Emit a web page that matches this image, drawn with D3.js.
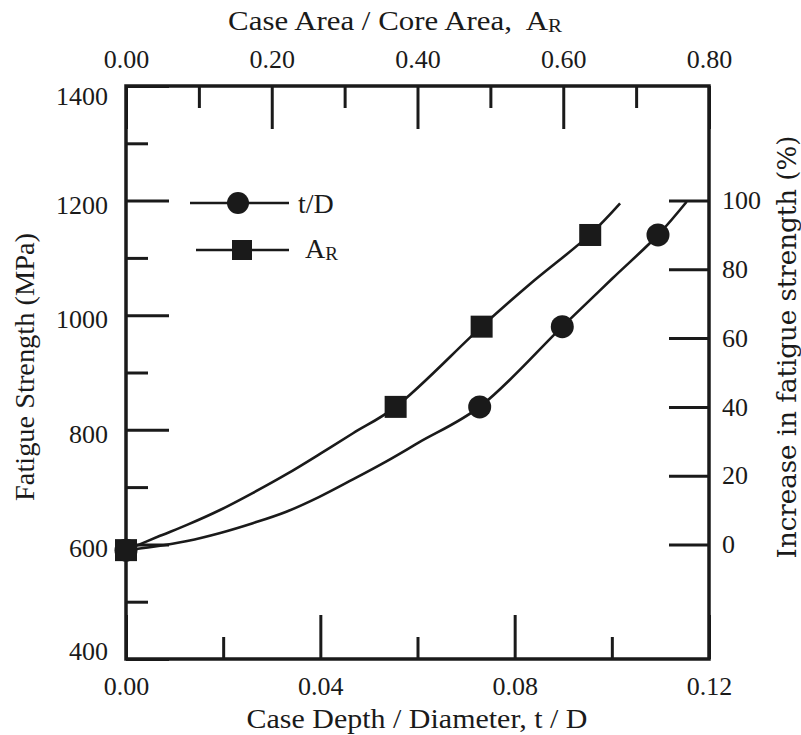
<!DOCTYPE html>
<html><head><meta charset="utf-8">
<script src="https://cdn.jsdelivr.net/npm/d3@7"></script>
<style>
body{margin:0;background:#fff}
svg{display:block}
svg text{font-family:'Liberation Serif',Tinos,'Times New Roman',Times,'DejaVu Serif',serif;fill:#1a1a1a}
svg text.rlab{font-family:'DejaVu Serif','Liberation Serif',serif}
</style>
</head><body>
<svg id="chart" width="801" height="735"></svg>
<script>
// ---------------- data ----------------
// measured points: t/D series (circles) on bottom axis
const tdX = [0, 0.0728, 0.0898, 0.1095];
const tdY = [590, 840, 980, 1140];
// measured points: A_R series (squares) on top axis
const arX = [0, 0.370, 0.488, 0.637];
const arY = [590, 840, 980, 1140];
// hand-drawn fit curves
const tdCurveX = [0, 0.0056, 0.0126, 0.0194, 0.0261, 0.0330, 0.0398, 0.0466, 0.0536, 0.0603, 0.0728, 0.0898, 0.1001, 0.1095, 0.1154];
const tdCurveY = [590, 596, 606, 620, 637, 657, 683, 713, 745, 778, 840, 980, 1064, 1140, 1198];
const arCurveX = [0, 0.0467, 0.0837, 0.1290, 0.1743, 0.2209, 0.2662, 0.3115, 0.370, 0.488, 0.554, 0.637, 0.678];
const arCurveY = [590, 615, 634, 660, 690, 723, 758, 794, 840, 980, 1054, 1141, 1195];
// ticks
const leftMajor = [400, 600, 800, 1000, 1200, 1400];
const leftMinor = [500, 700, 900, 1100, 1300];
const bottomMajor = [0, 0.04, 0.08, 0.12];
const bottomMinor = [0.02, 0.06, 0.10];
const topMajor = [0, 0.20, 0.40, 0.60, 0.80];
const topMinor = [0.10, 0.30, 0.50, 0.70];
const rightTicks = [0, 20, 40, 60, 80, 100];
const baseStrength = 600; // MPa corresponding to 0 % increase
const legendNames = ["t/D", "A", "R"];

// ---------------- layout ----------------
const L = 126, R = 709, T = 86, B = 659;
const ink = "#1a1a1a";
const svg = d3.select("#chart");

const x = d3.scaleLinear().domain([0, 0.12]).range([L, R]);
const xTop = d3.scaleLinear().domain([0, 0.8]).range([L, R]);
const y = d3.scaleLinear().domain([400, 1400]).range([B, T]);
const yPct = d3.scaleLinear()
  .domain([(400 / baseStrength - 1) * 100, (1400 / baseStrength - 1) * 100])
  .range([B, T]);

function styleAxis(g, fs) {
  g.attr("font-family", null);
  g.select(".domain").remove();
  g.selectAll(".tick line").attr("stroke", ink).attr("stroke-width", 3);
  g.selectAll(".tick text").attr("font-size", fs).attr("fill", ink);
}

// left axis
const gl = svg.append("g").attr("transform", `translate(${L},0)`)
  .call(d3.axisLeft(y).tickValues(leftMajor).tickSizeInner(-43).tickSizeOuter(0).tickPadding(18).tickFormat(d3.format("d")));
styleAxis(gl, 26);
gl.selectAll(".tick text").attr("dy", d => d === 1400 ? "0.7em" : d === 400 ? "0em" : "0.48em");
const glm = svg.append("g").attr("transform", `translate(${L},0)`)
  .call(d3.axisLeft(y).tickValues(leftMinor).tickSizeInner(-22).tickSizeOuter(0).tickFormat(""));
styleAxis(glm, 26);

// bottom axis
const gb = svg.append("g").attr("transform", `translate(0,${B})`)
  .call(d3.axisBottom(x).tickValues(bottomMajor).tickSizeInner(-44).tickSizeOuter(0).tickPadding(18).tickFormat(d3.format(".2f")));
styleAxis(gb, 26);
const gbm = svg.append("g").attr("transform", `translate(0,${B})`)
  .call(d3.axisBottom(x).tickValues(bottomMinor).tickSizeInner(-22).tickSizeOuter(0).tickFormat(""));
styleAxis(gbm, 26);

// top axis
const gt = svg.append("g").attr("transform", `translate(0,${T})`)
  .call(d3.axisTop(xTop).tickValues(topMajor).tickSizeInner(-43).tickSizeOuter(0).tickPadding(18).tickFormat(d3.format(".2f")));
styleAxis(gt, 26);
const gtm = svg.append("g").attr("transform", `translate(0,${T})`)
  .call(d3.axisTop(xTop).tickValues(topMinor).tickSizeInner(-22).tickSizeOuter(0).tickFormat(""));
styleAxis(gtm, 26);

// right axis
const gr = svg.append("g").attr("transform", `translate(${R},0)`)
  .call(d3.axisRight(yPct).tickValues(rightTicks).tickSizeInner(-40).tickSizeOuter(0).tickPadding(13).tickFormat(d3.format("d")));
styleAxis(gr, 26);

// frame
svg.append("rect").attr("x", L).attr("y", T).attr("width", R - L).attr("height", B - T)
  .attr("fill", "none").attr("stroke", ink).attr("stroke-width", 3.5);

// curves
const line = d3.line().curve(d3.curveCatmullRom.alpha(0.5));
svg.append("path")
  .attr("d", line(tdCurveX.map((v, i) => [x(v), y(tdCurveY[i])])))
  .attr("fill", "none").attr("stroke", ink).attr("stroke-width", 2.6);
svg.append("path")
  .attr("d", line(arCurveX.map((v, i) => [xTop(v), y(arCurveY[i])])))
  .attr("fill", "none").attr("stroke", ink).attr("stroke-width", 2.6);

// markers
const sq = 22;
svg.append("g").selectAll("rect").data(arX.map((v, i) => [v, arY[i]])).join("rect")
  .attr("x", d => xTop(d[0]) - sq / 2).attr("y", d => y(d[1]) - sq / 2)
  .attr("width", sq).attr("height", sq).attr("fill", ink);
svg.append("g").selectAll("circle").data(tdX.map((v, i) => [v, tdY[i]])).join("circle")
  .attr("cx", d => x(d[0])).attr("cy", d => y(d[1])).attr("r", 11.5).attr("fill", ink);

// legend
const lg = svg.append("g");
lg.append("line").attr("x1", 190).attr("x2", 289).attr("y1", 203).attr("y2", 203).attr("stroke", ink).attr("stroke-width", 2.6);
lg.append("circle").attr("cx", 238).attr("cy", 203).attr("r", 11).attr("fill", ink);
lg.append("text").attr("x", 298).attr("y", 213).attr("font-size", 28).text(legendNames[0]);
lg.append("line").attr("x1", 196).attr("x2", 289).attr("y1", 250).attr("y2", 250).attr("stroke", ink).attr("stroke-width", 2.6);
lg.append("rect").attr("x", 232).attr("y", 240).attr("width", 20).attr("height", 20).attr("fill", ink);
const lt = lg.append("text").attr("x", 305).attr("y", 258).attr("font-size", 28).text(legendNames[1]);
lt.append("tspan").attr("font-size", 19).attr("dy", 2).text(legendNames[2]);

// axis titles, stretched horizontally to the reference widths
function fitTitle(sel, cx, cy, target, rot) {
  const w = sel.node().getComputedTextLength();
  const s = target / w;
  sel.attr("x", 0).attr("y", 0).attr("text-anchor", "middle")
    .attr("transform", `translate(${cx},${cy})` + (rot ? " rotate(-90)" : "") + ` scale(${s},1)`);
}
const tt = svg.append("text").attr("font-size", 28).text("Case Area / Core Area,\u00A0 A");
tt.append("tspan").attr("font-size", 19).attr("dy", 2).text("R");
fitTitle(tt, 395, 30, 334, false);
const bt = svg.append("text").attr("font-size", 28).text("Case Depth / Diameter, t / D");
fitTitle(bt, 417, 728, 341, false);
const ltl = svg.append("text").attr("font-size", 28).text("Fatigue Strength (MPa)");
fitTitle(ltl, 34, 367, 268, true);
const rt = svg.append("text").attr("class", "rlab").attr("font-size", 26).text("Increase in fatigue strength (%)");
fitTitle(rt, 796, 347, 423, true);
</script>
</body></html>
